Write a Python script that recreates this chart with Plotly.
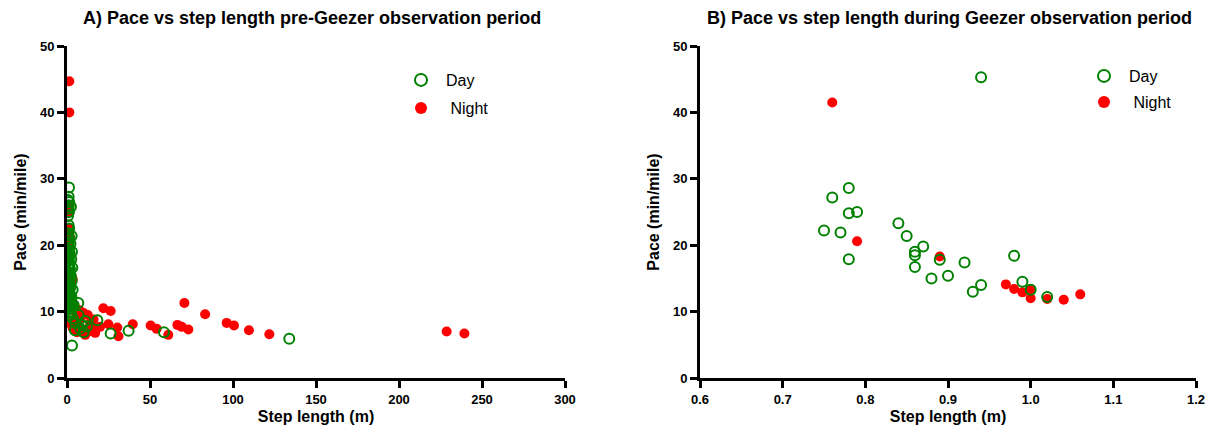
import plotly.graph_objects as go

# Panel A: pre-Geezer
a_day_x = [1.2, 1.0, 1.3, 1.1, 0.9, 1.2, 1.0, 1.3, 0.8, 1.5, 1.1, 0.7, 1.4, 1.0, 1.6, 0.9, 1.2, 0.6,
           1.5, 1.0, 1.8, 0.8, 1.3, 1.1, 0.7, 1.6, 1.0, 1.9, 1.2, 0.8, 1.5, 2.2, 1.0, 1.7, 2.5, 1.3, 2.0,
           0.5, 2.4, 0.6, 2.8, 0.4, 2.1, 3.0, 0.5, 2.6, 0.9, 3.2, 0.4, 2.3, 2.9, 0.6, 3.4, 1.8, 2.7, 0.5,
           2.0, 3.1, 0.8, 2.4, 1.5,
           6.8, 3.0, 3.5, 5.0, 4.8, 8.0, 10.0, 11.0, 12.0, 18.3, 26.3, 37.1, 58.4, 133.9, 7.0, 9.0, 4.0]
a_day_y = [28.7, 27.3, 26.5, 26.0, 25.5, 25.0, 23.0, 22.5, 21.8, 21.0, 20.5, 20.0, 19.6, 19.2, 18.8, 18.4, 18.0, 17.6,
           17.2, 16.8, 16.4, 16.0, 15.6, 15.2, 14.8, 14.4, 14.0, 13.6, 13.2, 12.8, 12.4, 12.0, 11.6, 11.2, 10.8, 10.4, 10.0,
           26.8, 25.8, 24.4, 21.4, 20.9, 20.2, 19.0, 18.6, 17.9, 17.0, 16.6, 15.9, 15.4, 14.6, 13.9, 13.3, 12.6, 12.2, 11.9,
           11.4, 10.9, 10.6, 9.8, 9.4,
           11.3, 4.9, 9.0, 8.3, 7.2, 7.4, 6.9, 8.6, 7.8, 8.7, 6.7, 7.1, 6.9, 5.9, 9.5, 8.0, 11.0]
a_night_x = [1.4, 1.4, 3.4, 1.0, 1.5, 0.8, 1.2, 1.0, 1.3, 2.0, 1.5, 2.5, 3.0, 4.5, 2.0, 3.5, 5.5, 6.5, 8.0, 9.5,
             11.0, 12.5, 14.0, 15.0, 16.0, 19.9, 21.9, 24.9, 26.3, 30.3, 31.0, 39.6, 50.4, 54.0, 61.0, 66.5, 69.1,
             70.7, 73.1, 83.2, 96.2, 100.6, 109.6, 121.9, 228.7, 239.4, 7.5, 10.0, 13.0, 17.0, 6.0]
a_night_y = [44.7, 40.0, 14.9, 22.5, 21.5, 26.0, 25.0, 20.0, 18.0, 16.0, 13.0, 12.0, 11.5, 10.8, 8.2, 7.5, 9.2, 8.0, 9.0, 7.0,
             6.5, 9.5, 8.2, 7.5, 8.8, 7.7, 10.5, 8.1, 10.1, 7.6, 6.3, 8.1, 7.9, 7.4, 6.5, 8.0, 7.7,
             11.3, 7.3, 9.6, 8.3, 7.9, 7.2, 6.6, 7.0, 6.7, 10.2, 9.8, 7.0, 6.8, 6.9]

# Panel B: during Geezer
b_day_x = [0.94, 0.78, 0.76, 0.78, 0.79, 0.75, 0.77, 0.78, 0.84, 0.85, 0.87, 0.86, 0.86, 0.89, 0.86, 0.92,
           0.88, 0.90, 0.94, 0.93, 0.98, 0.99, 1.00, 1.02]
b_day_y = [45.3, 28.6, 27.2, 24.8, 25.0, 22.2, 21.9, 17.9, 23.3, 21.4, 19.8, 19.0, 18.5, 17.8, 16.7, 17.4,
           15.0, 15.4, 14.0, 13.0, 18.4, 14.5, 13.3, 12.2]
b_night_x = [0.76, 0.79, 0.89, 0.97, 0.98, 0.99, 1.00, 1.00, 1.02, 1.04, 1.06]
b_night_y = [41.5, 20.6, 18.3, 14.1, 13.4, 12.9, 13.4, 12.0, 11.9, 11.8, 12.6]

x_ticks_a = [0, 50, 100, 150, 200, 250, 300]
x_ticks_b = [0.6, 0.7, 0.8, 0.9, 1.0, 1.1, 1.2]
x_ticktext_b = ["0.6", "0.7", "0.8", "0.9", "1.0", "1.1", "1.2"]
y_ticks = [0, 10, 20, 30, 40, 50]

GREEN = "#008000"
RED = "#FF0000"
FONT = "Liberation Sans, Arial, sans-serif"

fig = go.Figure()

def add_panel(xa, ya, leg_day, leg_night, nx, ny, dx, dy):
    fig.add_trace(go.Scatter(x=nx, y=ny, mode="markers", name=" Night", legend=leg_night, showlegend=True,
                             xaxis=xa, yaxis=ya,
                             marker=dict(color=RED, size=10, line=dict(width=0))))
    fig.add_trace(go.Scatter(x=dx, y=dy, mode="markers", name="Day", legend=leg_day, showlegend=True,
                             xaxis=xa, yaxis=ya,
                             marker=dict(symbol="circle-open", color=GREEN, size=10, line=dict(width=2, color=GREEN))))

add_panel("x", "y", "legend", "legend2", a_night_x, a_night_y, a_day_x, a_day_y)
add_panel("x2", "y2", "legend3", "legend4", b_night_x, b_night_y, b_day_x, b_day_y)

axis_common = dict(showline=True, linecolor="black", linewidth=3, ticks="outside", tickwidth=3,
                   ticklen=7, tickcolor="black", showgrid=False, zeroline=False, automargin=False,
                   tickfont=dict(family=FONT, size=13, color="black", weight="bold"),
                   title_font=dict(family=FONT, size=16, color="black", weight="bold"))

def leg(xpx, ypx):
    return dict(x=(xpx - 24) / 1219, y=1 - ypx / 436, xanchor="left", yanchor="middle",
                bgcolor="rgba(0,0,0,0)", font=dict(family=FONT, size=16, color="black"),
                itemsizing="constant", itemwidth=40, visible=True)

fig.update_layout(
    width=1219, height=436,
    showlegend=True,
    margin=dict(l=0, r=0, t=0, b=0, autoexpand=False),
    paper_bgcolor="white", plot_bgcolor="white",
    xaxis=dict(domain=[67 / 1219, 565 / 1219], range=[0, 300], tickvals=x_ticks_a,
               title=dict(text="Step length (m)", standoff=6), anchor="y", **axis_common),
    yaxis=dict(domain=[58 / 436, 390 / 436], range=[0, 50], tickvals=y_ticks,
               title=dict(text="Pace (min/mile)", standoff=10), anchor="x", **axis_common),
    xaxis2=dict(domain=[700 / 1219, 1196 / 1219], range=[0.6, 1.2], tickvals=x_ticks_b,
                ticktext=x_ticktext_b,
                title=dict(text="Step length (m)", standoff=6), anchor="y2", **axis_common),
    yaxis2=dict(domain=[58 / 436, 390 / 436], range=[0, 50], tickvals=y_ticks,
                title=dict(text="Pace (min/mile)", standoff=10), anchor="x2", **axis_common),
    legend=leg(420, 80),
    legend2=leg(420, 108),
    legend3=leg(1103, 76),
    legend4=leg(1103, 102),
    annotations=[
        dict(text="<b>A) Pace vs step length pre-Geezer observation period</b>", x=312 / 1219, y=1 - 18 / 436,
             xref="paper", yref="paper", xanchor="center", yanchor="middle", showarrow=False,
             font=dict(family=FONT, size=18, color="black")),
        dict(text="<b>B) Pace vs step length during Geezer observation period</b>", x=949 / 1219, y=1 - 18 / 436,
             xref="paper", yref="paper", xanchor="center", yanchor="middle", showarrow=False,
             font=dict(family=FONT, size=18, color="black")),
    ],
)

fig.write_html("out.html")
